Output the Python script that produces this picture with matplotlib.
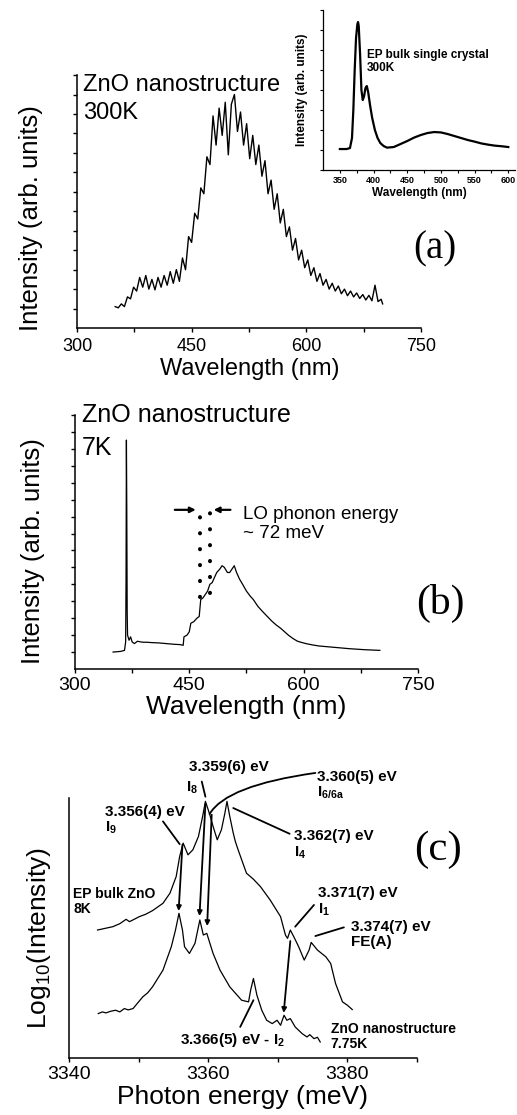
import matplotlib
matplotlib.use('Agg')
import matplotlib.pyplot as plt

plt.rcParams['font.family'] = ['Liberation Sans', 'DejaVu Sans']
plt.rcParams['mathtext.fontset'] = 'custom'
plt.rcParams['mathtext.rm'] = 'Liberation Sans:bold'
plt.rcParams['mathtext.it'] = 'Liberation Sans:italic'
plt.rcParams['mathtext.bf'] = 'Liberation Sans:bold'

# ---- (a) ZnO nanostructure, 300K
wl_a = [350, 354, 358, 362, 366, 370, 374, 378, 382, 386,
        390, 394, 398, 402, 406, 410, 414, 418, 422, 426,
        430, 434, 438, 442, 446, 450, 454, 458, 462, 466,
        470, 474, 478, 482, 486, 490, 494, 498, 502, 506,
        510, 514, 518, 522, 526, 530, 534, 538, 542, 546,
        550, 554, 558, 562, 566, 570, 574, 578, 582, 586,
        590, 594, 598, 602, 606, 610, 614, 618, 622, 626,
        630, 634, 638, 642, 646, 650, 654, 658, 662, 666,
        670, 674, 678, 682, 686, 690, 694, 698, 700]
int_a = [0.05, 0.02, 0.12, 0.05, 0.30, 0.25, 0.55, 0.45, 0.80, 0.55,
         0.85, 0.50, 0.75, 0.48, 0.80, 0.55, 0.85, 0.60, 0.95, 0.65,
         1.00, 0.70, 1.30, 1.00, 1.85, 1.70, 2.45, 2.30, 3.10, 2.95,
         3.90, 3.70, 4.95, 4.20, 5.15, 4.45, 5.30, 3.95, 5.25, 5.50,
         4.55, 5.05, 4.20, 4.75, 3.85, 4.45, 3.70, 4.20, 3.40, 3.80,
         2.95, 3.30, 2.55, 2.95, 2.20, 2.55, 1.85, 2.10, 1.50, 1.80,
         1.25, 1.50, 1.05, 1.25, 0.85, 1.05, 0.70, 0.90, 0.60, 0.75,
         0.50, 0.65, 0.45, 0.58, 0.38, 0.50, 0.33, 0.45, 0.30, 0.40,
         0.26, 0.36, 0.22, 0.34, 0.20, 0.60, 0.18, 0.24, 0.12]

# inset: EP bulk single crystal, 300K
wl_in = [350, 360, 365, 368, 370, 372, 374, 376, 377, 378, 380, 382, 384,
         386, 388, 390, 392, 395, 398, 402, 406, 410, 415, 420, 430, 440,
         450, 460, 470, 480, 490, 500, 510, 520, 530, 540, 550, 560, 570,
         580, 590, 600]
int_in = [1.05, 1.05, 1.1, 1.6, 3.0, 5.0, 6.6, 7.3, 7.4, 7.2, 5.8, 4.0, 3.5,
          3.7, 4.1, 4.2, 3.9, 3.2, 2.6, 2.0, 1.6, 1.35, 1.2, 1.12, 1.15, 1.3,
          1.45, 1.62, 1.75, 1.85, 1.9, 1.88, 1.8, 1.7, 1.6, 1.5, 1.42, 1.33,
          1.27, 1.22, 1.19, 1.15]

# ---- (b) ZnO nanostructure, 7K
wl_b = [350, 360, 365, 366.5, 367, 367.5, 368, 368.5, 369, 371, 373, 375,
        378, 382, 386, 390, 395, 400, 410, 420, 430, 438, 442, 443, 447,
        450, 452, 456, 460, 463, 465, 468, 471, 474, 477, 480, 482, 486,
        490, 493, 496, 500, 503, 506, 509, 512, 516, 520, 525, 530, 534,
        540, 546, 552, 558, 564, 570, 574, 580, 586, 592, 598, 605, 612,
        620, 630, 640, 660, 680, 700]
int_b = [0.0, 0.02, 0.05, 0.3, 2.1, 6.26, 4.2, 1.2, 0.5, 0.35, 0.45, 0.3,
         0.25, 0.32, 0.3, 0.29, 0.29, 0.28, 0.27, 0.25, 0.23, 0.22, 0.2, 0.45,
         0.5, 0.6, 0.85, 0.9, 1.0, 1.05, 1.55, 1.6, 1.7, 1.8, 2.0, 2.05, 2.15,
         2.35, 2.45, 2.55, 2.5, 2.35, 2.35, 2.45, 2.55, 2.35, 2.15, 2.0, 1.8,
         1.65, 1.55, 1.35, 1.2, 1.06, 0.92, 0.8, 0.7, 0.62, 0.5, 0.4, 0.32,
         0.28, 0.24, 0.21, 0.18, 0.16, 0.14, 0.1, 0.07, 0.05]

# ---- (c) log PL, photon energy (meV)
e_bulk = [3344.1, 3345.2, 3346.3, 3347.3, 3348.2, 3348.7, 3350.1, 3351.0,
          3352.0, 3353.5, 3354.5, 3355.4, 3355.9, 3356.4, 3356.8, 3357.1,
          3357.8, 3358.6, 3359.2, 3359.6, 3360.0, 3360.3, 3360.7, 3361.3,
          3361.9, 3362.4, 3362.7, 3363.1, 3363.6, 3363.9, 3364.3, 3365.5,
          3366.5, 3367.5, 3368.9, 3370.4, 3371.1, 3371.4, 3371.8, 3372.3,
          3373.0, 3373.8, 3374.5, 3374.8, 3375.7, 3376.9, 3377.6, 3378.3,
          3379.3, 3380.0, 3380.7]
log_bulk = [3.83, 3.88, 3.93, 4.02, 4.15, 4.08, 4.23, 4.30,
            4.41, 4.63, 4.93, 5.43, 6.03, 6.43, 6.23, 6.08,
            6.23, 6.63, 7.23, 7.68, 7.43, 7.23, 6.93, 6.53,
            6.83, 7.33, 7.68, 7.23, 6.73, 6.48, 6.23, 5.53,
            5.35, 5.13, 4.73, 4.23, 3.68, 3.58, 3.83, 3.63,
            3.33, 2.93, 3.23, 3.46, 3.23, 3.03, 2.83, 2.23,
            1.68, 1.58, 1.45]

e_nano = [3344.2, 3344.8, 3345.3, 3346.0, 3346.7, 3347.3, 3347.95, 3348.5,
          3349.2, 3350.6, 3351.3, 3352.0, 3353.5, 3354.7, 3355.3, 3355.8,
          3356.3, 3356.6, 3357.3, 3358.1, 3358.8, 3359.3, 3359.8, 3360.7,
          3361.7, 3363.1, 3364.8, 3365.8, 3366.1, 3366.5, 3367.0, 3367.7,
          3368.4, 3369.2, 3369.9, 3370.4, 3370.9, 3371.3, 3371.8, 3372.5,
          3373.5, 3374.2, 3374.6, 3375.2, 3375.7, 3376.1]
log_nano = [1.33, 1.38, 1.35, 1.40, 1.43, 1.38, 1.48, 1.44,
            1.48, 1.83, 1.95, 2.13, 2.63, 3.33, 3.83, 4.33,
            3.83, 3.33, 3.13, 3.43, 4.13, 3.68, 3.73, 3.13,
            2.63, 2.13, 1.73, 1.68, 2.03, 2.38, 1.88, 1.43,
            1.13, 1.03, 1.13, 0.98, 1.28, 1.13, 1.18, 0.93,
            0.73, 0.63, 0.70, 0.58, 0.62, 0.48]

wl_ticks = [300, 375, 450, 525, 600, 675, 750]
wl_labels = ['300', '', '450', '', '600', '', '750']
in_ticks = [350, 375, 400, 425, 450, 475, 500, 525, 550, 575, 600]
in_labels = ['350', '', '400', '', '450', '', '500', '', '550', '', '600']
e_ticks = [3340, 3350, 3360, 3370, 3380, 3390]
e_labels = ['3340', '', '3360', '', '3380', '']


def style(ax, length=3, width=1.0, spine=1.1):
    for s in ['top', 'right']:
        ax.spines[s].set_visible(False)
    for s in ['left', 'bottom']:
        ax.spines[s].set_linewidth(spine)
    ax.tick_params(direction='out', length=length, width=width, labelleft=False)
    ax.patch.set_alpha(0)


fig = plt.figure(figsize=(5.17, 11.15), dpi=100)

# ---------------- (a)
ax = fig.add_axes([0.149, 0.7058, 0.665, 0.2269])
style(ax)
ax.plot(wl_a, int_a, color='k', lw=1.0)
ax.set_xlim(300, 750)
ax.set_ylim(-0.5, 6.0)
ax.set_xticks(wl_ticks)
ax.set_xticklabels(wl_labels, fontsize=13)
ax.set_yticks([v * 0.5 for v in range(13)])
ax.tick_params(axis='x', pad=4)
ax.set_xlabel('Wavelength (nm)', fontsize=17)
ax.set_ylabel('Intensity (arb. units)', fontsize=18.5)
ax.xaxis.set_label_coords(0.501, -0.119)
ax.yaxis.set_label_coords(-0.099, 0.435)
ax.text(308, 6.02, 'ZnO nanostructure\n300K', fontsize=17, va='top',
        ha='left', linespacing=1.35)

ins = fig.add_axes([0.6248, 0.8475, 0.3714, 0.1435])
style(ins, length=2, width=0.8, spine=0.9)
ins.plot(wl_in, int_in, color='k', lw=1.6)
ins.set_xlim(325, 610)
ins.set_ylim(0, 8)
ins.set_xticks(in_ticks)
ins.set_xticklabels(in_labels, fontsize=6.5, fontweight='bold')
ins.set_yticks(range(9))
ins.tick_params(axis='x', pad=2)
ins.set_xlabel('Wavelength (nm)', fontsize=8.5, fontweight='bold', labelpad=2)
ins.set_ylabel('Intensity (arb. units)', fontsize=8.5, fontweight='bold')
ins.yaxis.set_label_coords(-0.078, 0.5)
ins.text(390, 6.05, 'EP bulk single crystal\n300K', fontsize=8.5,
         fontweight='bold', va='top', ha='left', linespacing=1.1)

fig.text(435 / 517, 1 - 249 / 1115, '(a)', family='Liberation Serif',
         fontsize=28, ha='center', va='center')

# ---------------- (b)
ax = fig.add_axes([0.145, 0.4, 0.6634, 0.2278])
style(ax)
ax.plot(wl_b, int_b, color='k', lw=0.9)
ax.set_xlim(300, 750)
ax.set_ylim(-0.5, 7.0)
ax.set_xticks(wl_ticks)
ax.set_xticklabels(wl_labels, fontsize=14)
ax.set_yticks([v * 0.5 for v in range(15)])
ax.tick_params(axis='x', pad=3)
ax.set_xlabel('Wavelength (nm)', fontsize=19)
ax.set_ylabel('Intensity (arb. units)', fontsize=18.5)
ax.xaxis.set_label_coords(0.498, -0.102)
ax.yaxis.set_label_coords(-0.087, 0.465)
ax.text(309, 7.35, 'ZnO nanostructure\n7K', fontsize=18, va='top',
        ha='left', linespacing=1.45)
for xd, y0, y1 in [(464, 1.62, 4.32), (477, 1.75, 4.45)]:
    ax.plot([xd, xd], [y0, y1], color='k', lw=2.9,
            linestyle=(0, (0.05, 3.9)), dash_capstyle='round')
ax.annotate('', xy=(458.5, 4.2), xytext=(431, 4.2),
            arrowprops=dict(arrowstyle='-|>', color='k', lw=1.6,
                            mutation_scale=8, shrinkA=0, shrinkB=0))
ax.annotate('', xy=(482, 4.2), xytext=(504, 4.2),
            arrowprops=dict(arrowstyle='-|>', color='k', lw=1.6,
                            mutation_scale=8, shrinkA=0, shrinkB=0))
ax.text(520, 4.3, 'LO phonon energy\n~ 72 meV', fontsize=13.5, va='top',
        ha='left', linespacing=1.15)

fig.text(440 / 517, 1 - 603 / 1115, '(b)', family='Liberation Serif',
         fontsize=30, ha='center', va='center')

# ---------------- (c)
ax = fig.add_axes([0.1335, 0.0511, 0.673, 0.2332])
style(ax)
ax.tick_params(axis='y', left=False)
ax.plot(e_bulk, log_bulk, color='k', lw=0.9)
ax.plot(e_nano, log_nano, color='k', lw=0.9)
ax.set_xlim(3340, 3390)
ax.set_ylim(0, 7.78)
ax.set_xticks(e_ticks)
ax.set_xticklabels(e_labels, fontsize=14)
ax.tick_params(axis='x', pad=3)
ax.set_xlabel('Photon energy (meV)', fontsize=19)
ax.set_ylabel(r'Log$_{\mathregular{10}}$(Intensity)', fontsize=19,
              math_fontfamily='dejavusans')
ax.xaxis.set_label_coords(0.5, -0.104)
ax.yaxis.set_label_coords(-0.046, 0.46)

head = dict(arrowstyle='-|>', color='k', lw=1.3, mutation_scale=7,
            shrinkA=0, shrinkB=0)
plain = dict(arrowstyle='-', color='k', lw=1.3, shrinkA=0, shrinkB=0)
for start, end in [((3356.3, 6.38), (3355.75, 4.4)),
                   ((3359.6, 7.6), (3358.75, 4.25)),
                   ((3360.5, 7.28), (3359.85, 3.95)),
                   ((3371.8, 3.5), (3370.85, 1.35))]:
    ax.annotate('', xy=end, xytext=start, arrowprops=head,
                annotation_clip=False)
for start, end in [((3353.5, 7.08), (3355.9, 6.40)),
                   ((3359.08, 8.27), (3359.6, 7.82)),
                   ((3363.6, 7.48), (3371.7, 6.71)),
                   ((3372.5, 3.93), (3375.2, 4.58)),
                   ((3375.4, 3.65), (3379.5, 3.91)),
                   ((3364.6, 0.93), (3366.5, 1.73))]:
    ax.annotate('', xy=end, xytext=start, arrowprops=plain,
                annotation_clip=False)
ax.annotate('', xy=(3360.2, 7.3), xytext=(3375.4, 8.53),
            arrowprops=dict(plain, connectionstyle='angle3,angleA=8,angleB=60'),
            annotation_clip=False)

fs = 11
tk = dict(fontsize=fs, fontweight='bold', va='top', linespacing=1.1)
ax.text(3345.2, 7.58, '3.356(4) eV\nI$_9$', **tk)
ax.text(3357.3, 8.91, '3.359(6) eV', **tk)
ax.text(3356.8, 8.33, 'I$_8$', **tk)
ax.text(3375.66, 8.63, '3.360(5) eV\nI$_{\\mathrm{6/6a}}$', **tk)
ax.text(3372.3, 6.85, '3.362(7) eV\nI$_4$', **tk)
ax.text(3375.75, 5.15, '3.371(7) eV\nI$_1$', **tk)
ax.text(3380.5, 4.13, '3.374(7) eV\nFE(A)', **tk)
ax.text(3355.9, 0.53, '3.366(5) eV - I$_2$', fontsize=fs, fontweight='bold',
        va='center')
ax.text(3340.6, 5.13, 'EP bulk ZnO\n8K', fontsize=10, fontweight='bold',
        va='top', linespacing=1.1)
ax.text(3377.6, 1.08, 'ZnO nanostructure\n7.75K', fontsize=10,
        fontweight='bold', va='top', linespacing=1.1)

fig.text(438 / 517, 1 - 850 / 1115, '(c)', family='Liberation Serif',
         fontsize=31, ha='center', va='center')

fig.savefig('out.png', dpi=100)
